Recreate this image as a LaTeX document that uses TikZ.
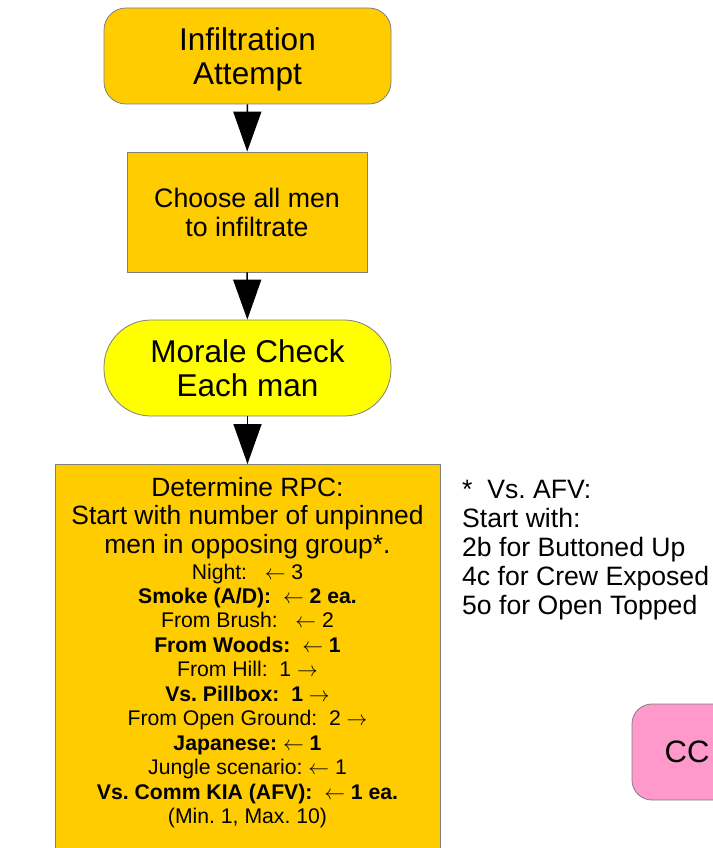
\documentclass[tikz,border=0pt]{standalone}
\usepackage{fontspec}
\setmainfont{Liberation Sans}
\usetikzlibrary{arrows.meta}
\definecolor{orng}{HTML}{FFCC00}
\definecolor{yel}{HTML}{FFFF00}
\definecolor{pnk}{HTML}{FF99CC}
\definecolor{bord}{HTML}{7F7F7F}
\frenchspacing
\begin{document}
\begin{tikzpicture}[x=1pt,y=-1pt,
  box/.style={draw=bord,line width=0.8pt,fill=orng,inner sep=0pt},
  bigtxt/.style={font=\fontsize{31.5}{34.5}\selectfont,align=center},
  midtxt/.style={font=\fontsize{26.4}{28.5}\selectfont,align=center},
  smalltxt/.style={font=\fontsize{21.2}{24.45}\selectfont,align=center},
  arr/.style={line width=1.5pt,-{Triangle[width=28pt,length=40pt]}}]
\useasboundingbox (0,0) rectangle (712,848);
\node[box,rounded corners=22pt,minimum width=287pt,minimum height=96pt] (start) at (247.5,56) {};
\node[bigtxt,inner sep=0pt] (starttxt) at (247.5,59.5) {Infiltration\\Attempt};
\node[box,minimum width=240pt,minimum height=120pt,font=\fontsize{26.7}{29}\selectfont,align=center] (choose) at (247,212) {Choose all men\\ to infiltrate};
\node[box,fill=yel,rounded corners=47pt,minimum width=287pt,minimum height=96pt,bigtxt] (morale) at (247.5,368) {Morale Check\\Each man};
\node[box,minimum width=385pt,minimum height=420pt,anchor=north] (rpc) at (247.5,464) {};
\node[midtxt,anchor=north,inner sep=0pt] (rpchead) at (247.5,477) {Determine RPC:\\Start with number of unpinned\\men in opposing group*.};
\node[smalltxt,anchor=north,inner sep=0pt] (rpcbody) at (247.5,563.5) {Night:\ \ \ $\leftarrow$ 3\\
\textbf{Smoke (A/D):\ \ $\leftarrow$ 2 ea.}\\
From Brush:\ \ \ $\leftarrow$ 2\\
\textbf{From Woods:\ \ $\leftarrow$ 1}\\
From Hill:\ \ 1 $\rightarrow$\\
\textbf{Vs. Pillbox:\ \ 1 $\rightarrow$}\\
From Open Ground:\ \ 2 $\rightarrow$\\
\textbf{Japanese: $\leftarrow$ 1}\\
Jungle scenario: $\leftarrow$ 1\\
\textbf{Vs. Comm KIA (AFV):\ \ $\leftarrow$ 1 ea.}\\
(Min. 1, Max. 10)};
\node[align=left,anchor=west,inner sep=0pt,font=\fontsize{26.6}{29}\selectfont] (note) at (462,550) {*\ \ Vs. AFV:\\Start with:\\2b for Buttoned Up\\4c for Crew Exposed\\5o for Open Topped};
\node[box,fill=pnk,rounded corners=20pt,minimum width=110pt,minimum height=96pt,font=\fontsize{31}{34}\selectfont] (cc) at (687,752) {CC};
\draw[arr] (start) -- (choose);
\draw[arr] (choose) -- (morale);
\draw[arr] (morale) -- (rpc);
\end{tikzpicture}
\end{document}
